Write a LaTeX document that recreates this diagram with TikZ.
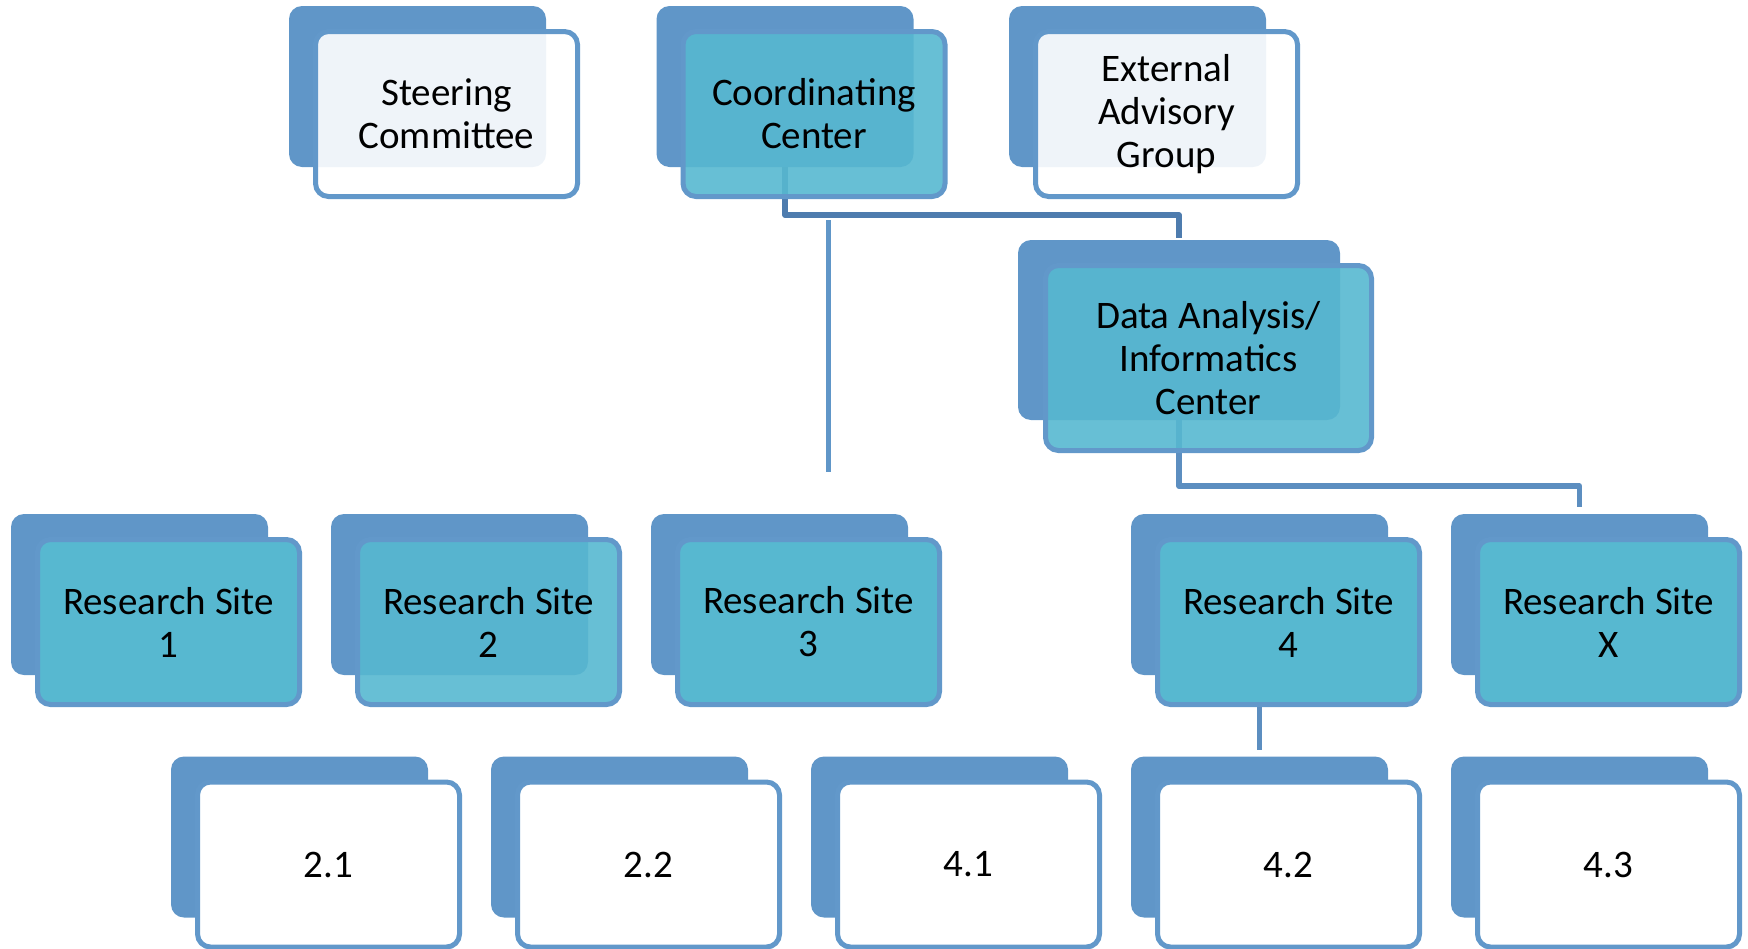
\documentclass[tikz,border=0pt]{standalone}
\usepackage{fontspec}
\setmainfont{Carlito}
\usetikzlibrary{positioning}
\definecolor{backblue}{RGB}{96,150,200}
\definecolor{edgeblue}{RGB}{98,152,202}
\definecolor{tealfill}{RGB}{87,184,208}
\definecolor{linkdark}{RGB}{78,124,174}
\definecolor{linkblue}{RGB}{92,142,192}
\newcommand{\cardfont}{\fontsize{39}{43}\selectfont}

\begin{document}
\begin{tikzpicture}[x=1pt, y=-1pt,
    backbox/.style={rectangle, rounded corners=13pt, fill=backblue,
        minimum width=257pt, minimum height=161pt, inner sep=0pt},
    frontbox/.style={rectangle, rounded corners=13pt, draw=edgeblue, line width=5pt,
        minimum width=262pt, minimum height=165pt, inner sep=0pt, align=center,
        font=\cardfont, text opacity=1},
    tealbox/.style={frontbox, fill=tealfill},
    paleteal/.style={frontbox, fill=tealfill, fill opacity=0.9},
    whitebox/.style={frontbox, fill=white},
    palewhite/.style={frontbox, fill=white, fill opacity=0.9},
    link/.style={line width=5.5pt, draw=linkblue, line join=round}]
    \useasboundingbox (0,0) rectangle (1748,948);

    % back cards
    \foreach \name/\x/\y in {sc/417.5/86.5, cc/785/86.5, ea/1137.5/86.5,
        rs1/139.5/594.5, rs2/459.5/594.5, rs3/779.5/594.5, rs4/1259.5/594.5, rsx/1579.5/594.5,
        s21/299.5/837, s22/619.5/837, s41/939.5/837, s42/1259.5/837, s43/1579.5/837} {
        \node [backbox] (\name-b) at (\x, \y) {};
        };
    \node [backbox, minimum width=322pt, minimum height=180pt] (da-b) at (1179, 330) {};

    % links
    \draw [link, draw=linkdark, shorten >=2pt] (cc-b.south) -- ++(0,48) -| (da-b.north);
    \draw [link, shorten >=7pt] (da-b.south) -- ++(0,66) -| (rsx-b.north);
    \draw [link, shorten >=6pt] (rs4-b.south) -- (s42-b.north);
    \coordinate (stub-top) at (828,220);
    \coordinate (stub-end) at (828,472);
    \draw [link, line width=5pt, draw=backblue] (stub-top) -- (stub-end);

    % front cards
    \node [palewhite] (sc) at ([xshift=29pt, yshift=-27.5pt]sc-b.center) {Steering\\Committee};
    \node [paleteal] (cc) at ([xshift=29pt, yshift=-27.5pt]cc-b.center) {Coordinating\\Center};
    \node [palewhite] (ea) at ([xshift=29pt, yshift=-27.5pt]ea-b.center) {External\\Advisory\\Group};
    \node [paleteal, minimum width=326pt, minimum height=185pt] (da)
        at ([xshift=29.5pt, yshift=-28pt]da-b.center) {Data Analysis/\\Informatics\\Center};

    \foreach \name/\num/\look in {rs1/1/tealbox, rs2/2/paleteal, rs3/3/tealbox,
        rs4/4/tealbox, rsx/X/tealbox} {
        \node [\look] (\name) at ([xshift=29pt, yshift=-27.5pt]\name-b.center) {Research Site\\\num};
        };
    \foreach \name/\num in {s21/2.1, s22/2.2, s41/4.1, s42/4.2, s43/4.3} {
        \node [whitebox] (\name) at ([xshift=29pt, yshift=-27.5pt]\name-b.center) {\num};
        };
\end{tikzpicture}
\end{document}
